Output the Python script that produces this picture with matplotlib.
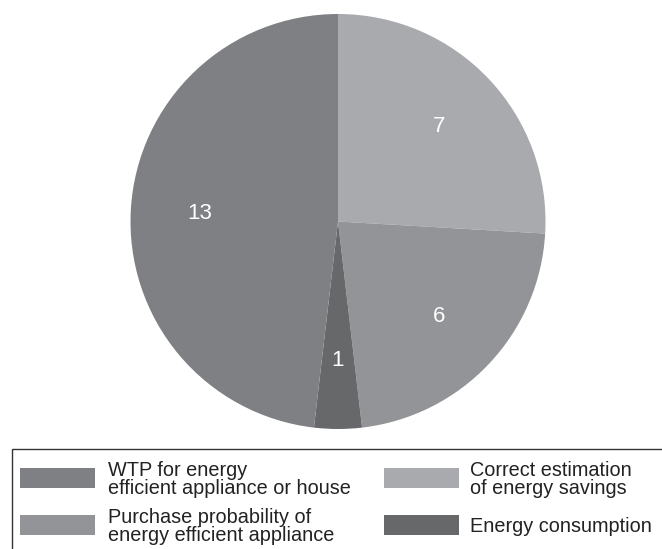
import matplotlib.pyplot as plt
from matplotlib.patches import Rectangle

plt.rcParams['font.family'] = ['Liberation Sans', 'DejaVu Sans']

# slices clockwise from 12 o'clock
counts = [7, 6, 1, 13]
slice_colors = ['#a9aaad', '#939497', '#67686a', '#7f8084']

# legend entries, two columns of two
legend_labels = ['WTP for energy\nefficient appliance or house',
                 'Purchase probability of\nenergy efficient appliance',
                 'Correct estimation\nof energy savings',
                 'Energy consumption']
legend_colors = ['#7f8084', '#939497', '#a9aaad', '#67686a']

W, H = 662, 549
fig = plt.figure(figsize=(W / 100, H / 100), dpi=100)


def fx(px):
    return px / W


def fy(py):
    return 1 - py / H


cx, cy, r = 338, 221.5, 207.5
ax = fig.add_axes([fx(cx - r), fy(cy + r), 2 * r / W, 2 * r / H])
wedges, texts = ax.pie(counts, colors=slice_colors, startangle=90,
                       counterclock=False, labels=[str(c) for c in counts],
                       labeldistance=0.67, radius=1.0,
                       textprops=dict(color='white', fontsize=16,
                                      ha='center', va='center'))
ax.set_xlim(-1, 1)
ax.set_ylim(-1, 1)
ax.set_aspect('auto')
ax.axis('off')

# legend frame runs off the right and bottom edges
fig.patches.append(Rectangle((fx(12), -0.1), 1.0, fy(449) + 0.1,
                             transform=fig.transFigure, facecolor='white',
                             edgecolor='#333333', linewidth=1.0))

# key swatches and labels, one text line at a time
swatch_x = [20, 20, 384, 384]
swatch_top = [468, 515, 468, 515]
text_x = [108, 108, 470, 470]
row_mid = [478, 525.5, 478, 525.5]
pitch, cap = 18, 13.5
for i, lab in enumerate(legend_labels):
    fig.patches.append(Rectangle((fx(swatch_x[i]), fy(swatch_top[i] + 20)),
                                 75 / W, 20 / H, transform=fig.transFigure,
                                 facecolor=legend_colors[i], edgecolor='none'))
    lines = lab.split('\n')
    first_base = row_mid[i] - (cap + pitch * (len(lines) - 1)) / 2 + cap
    for k, line in enumerate(lines):
        fig.text(fx(text_x[i]), fy(first_base + pitch * k), line,
                 fontsize=14.3, color='#222222', ha='left', va='baseline')

fig.savefig('out.png', dpi=100)
